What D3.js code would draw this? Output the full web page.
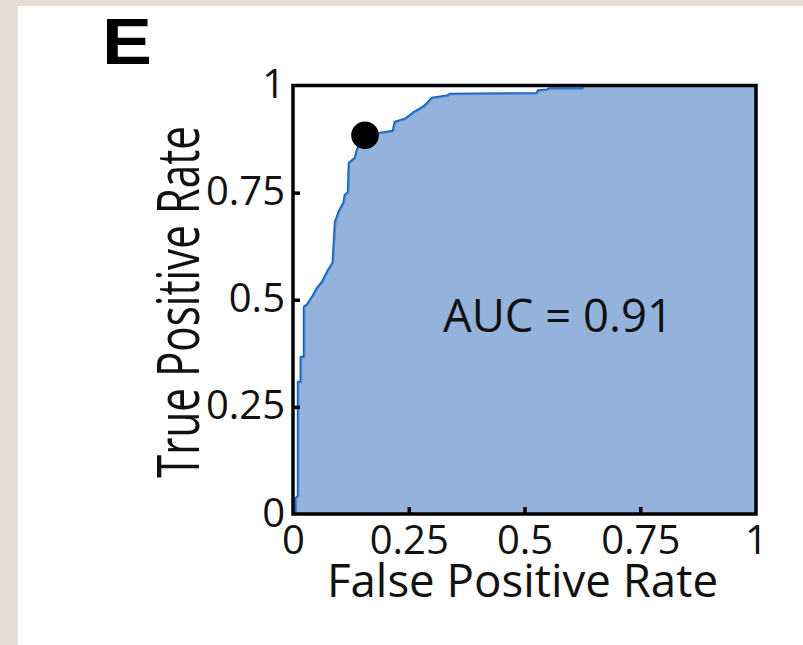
<!DOCTYPE html>
<html>
<head>
<meta charset="utf-8">
<script src="https://cdn.jsdelivr.net/npm/d3@7"></script>
<style>
  html, body { margin: 0; padding: 0; background: #e5dfd3; }
  svg { display: block; }
</style>
</head>
<body>
<script>
// ROC curve vertices (false positive rate, true positive rate)
const fpr = [0.006, 0.006, 0.011, 0.011, 0.017, 0.017, 0.024, 0.024, 0.030, 0.043, 0.052, 0.063, 0.076, 0.086,
             0.091, 0.099, 0.110, 0.112, 0.119, 0.121, 0.134, 0.138, 0.149, 0.166, 0.188, 0.216, 0.220, 0.242,
             0.259, 0.281, 0.292, 0.300, 0.333, 0.339, 0.527, 0.529, 0.549, 0.553, 0.626, 0.629, 1.0];
const tpr = [0.000, 0.037, 0.042, 0.308, 0.308, 0.366, 0.366, 0.483, 0.488, 0.509, 0.527, 0.541, 0.569, 0.586,
             0.681, 0.705, 0.728, 0.744, 0.751, 0.819, 0.831, 0.849, 0.874, 0.887, 0.889, 0.894, 0.915, 0.922,
             0.936, 0.950, 0.961, 0.971, 0.976, 0.980, 0.982, 0.988, 0.990, 0.993, 0.993, 1.0, 1.0];
// Chosen operating point
const opPoint = { fpr: 0.1555, tpr: 0.884 };
const aucValue = 0.91;
const tickValues = [0, 0.25, 0.5, 0.75, 1];
const tickLabels = ["0", "0.25", "0.5", "0.75", "1"];
const panelLetter = "E";
const xTitle = "False Positive Rate";
const yTitle = "True Positive Rate";

const W = 803, H = 645;
const svg = d3.select("body").append("svg").attr("width", W).attr("height", H);

// white card
svg.append("rect").attr("x", 18).attr("y", 6).attr("width", W - 18).attr("height", H - 6).attr("fill", "#ffffff");

const x = d3.scaleLinear().domain([0, 1]).range([293, 756]);
const y = d3.scaleLinear().domain([0, 1]).range([514, 85.5]);

const pts = fpr.map((f, i) => [f, tpr[i]]);
const font = "'Open Sans', 'Noto Sans', sans-serif";

// curve line underneath, fill drawn over it
svg.append("path")
  .datum(pts)
  .attr("d", d3.line().x(d => x(d[0])).y(d => y(d[1])))
  .attr("fill", "none")
  .attr("stroke", "#0a62c4")
  .attr("stroke-width", 2.6)
  .attr("stroke-linejoin", "round");

svg.append("path")
  .datum(pts)
  .attr("d", d3.area().x(d => x(d[0])).y0(y(0)).y1(d => y(d[1])))
  .attr("fill", "#6894ce")
  .attr("fill-opacity", 0.71);

// axes with inward ticks
const xAxis = svg.append("g").attr("transform", `translate(0,${y(0)})`)
  .call(d3.axisBottom(x).tickValues(tickValues).tickFormat((d, i) => tickLabels[i])
    .tickSizeInner(-7).tickSizeOuter(0).tickPadding(12));
const yAxis = svg.append("g").attr("transform", `translate(${x(0)},0)`)
  .call(d3.axisLeft(y).tickValues(tickValues).tickFormat((d, i) => tickLabels[i])
    .tickSizeInner(-7).tickSizeOuter(0).tickPadding(8));

[xAxis, yAxis].forEach(g => {
  g.select(".domain").remove();
  g.selectAll(".tick line").attr("stroke", "#000").attr("stroke-width", 3.5);
  g.selectAll(".tick text").attr("fill", "#111").attr("font-family", font).attr("font-size", 40);
});
xAxis.selectAll(".tick").filter(d => d === 0 || d === 1).select("line").remove();
yAxis.selectAll(".tick").filter(d => d === 0 || d === 1).select("line").remove();
yAxis.selectAll(".tick text").attr("dy", "0.30em");

// frame
svg.append("rect")
  .attr("x", x(0)).attr("y", y(1))
  .attr("width", x(1) - x(0)).attr("height", y(0) - y(1))
  .attr("fill", "none").attr("stroke", "#000").attr("stroke-width", 3.5);

// operating point
svg.append("circle")
  .attr("cx", x(opPoint.fpr)).attr("cy", y(opPoint.tpr)).attr("r", 13.8)
  .attr("fill", "#000");

// AUC annotation
svg.append("text")
  .attr("x", 443).attr("y", 332)
  .attr("font-family", font).attr("font-size", 45).attr("fill", "#111")
  .attr("textLength", 230).attr("lengthAdjust", "spacingAndGlyphs")
  .text(`AUC = ${aucValue.toFixed(2)}`);

// axis titles
svg.append("text")
  .attr("x", 327).attr("y", 597)
  .attr("font-family", font).attr("font-size", 45).attr("fill", "#111")
  .attr("textLength", 391).attr("lengthAdjust", "spacingAndGlyphs")
  .text(xTitle);

svg.append("text")
  .attr("transform", "translate(199,478) rotate(-90)")
  .attr("font-family", font).attr("font-size", 58).attr("fill", "#111")
  .attr("textLength", 352).attr("lengthAdjust", "spacingAndGlyphs")
  .text(yTitle);

// panel letter
svg.append("text")
  .attr("transform", "translate(102,64) scale(1.17,1)")
  .attr("font-family", "'Liberation Sans', Arial, sans-serif")
  .attr("font-weight", "bold").attr("font-size", 64).attr("fill", "#000")
  .text(panelLetter);
</script>
</body>
</html>
